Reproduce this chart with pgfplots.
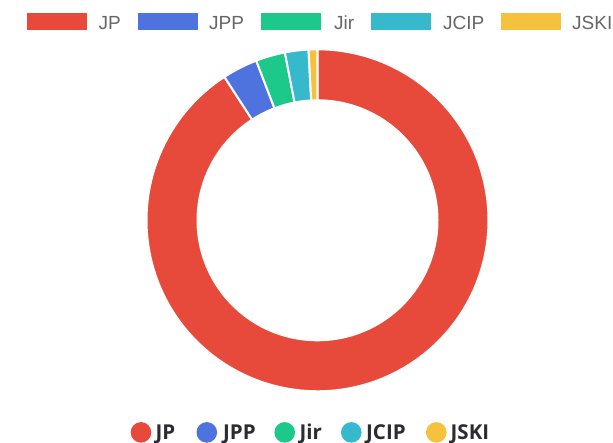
\documentclass[border=0pt]{standalone}
\usepackage{pgfplots}
\usepackage{pgfplotstable}
\pgfplotsset{compat=1.18}
\usepackage{fontspec}
\setmainfont{Liberation Sans}
\newfontfamily\opensans{Open Sans}

\definecolor{cJP}{HTML}{E74A3B}
\definecolor{cJPP}{HTML}{4E73DF}
\definecolor{cJir}{HTML}{1CC88A}
\definecolor{cJCIP}{HTML}{36B9CC}
\definecolor{cJSKI}{HTML}{F6C23E}
\definecolor{toptext}{HTML}{666666}
\definecolor{bottext}{HTML}{2B2B33}

% share of each journal
\pgfplotstableread{
name value colour
JP   327  cJP
JPP  12   cJPP
Jir  10   cJir
JCIP 8    cJCIP
JSKI 3    cJSKI
}\shares

\def\rin{0.7018}% inner radius relative to outer

\begin{document}
\begin{tikzpicture}
\useasboundingbox (0pt,0pt) rectangle (613pt,443pt);
\begin{axis}[
  at={(317.5pt,222.7pt)}, anchor=center,
  width=342pt, height=342pt, scale only axis,
  hide axis, clip=false,
  xmin=-1, xmax=1, ymin=-1, ymax=1,
]
\pgfplotstablegetrowsof{\shares}
\pgfmathtruncatemacro\lastrow{\pgfplotsretval-1}
% total of all shares
\xdef\total{0}
\foreach \i in {0,...,\lastrow}{%
  \pgfplotstablegetelem{\i}{value}\of\shares
  \pgfmathsetmacro\tmp{\total+\pgfplotsretval}%
  \xdef\total{\tmp}%
}
% one ring segment per row, clockwise from the top
\xdef\startang{0}
\foreach \i in {0,...,\lastrow}{%
  \pgfplotstablegetelem{\i}{value}\of\shares
  \pgfmathsetmacro\endang{\startang+(\pgfplotsretval/\total)*360}%
  \pgfmathsetmacro\span{\endang-\startang}%
  \pgfplotstablegetelem{\i}{colour}\of\shares
  \edef\col{\pgfplotsretval}%
  \pgfmathtruncatemacro\nseg{max(2,ceil(\span/2))}%
  \xdef\pts{}%
  \foreach \k in {0,...,\nseg}{%
    \pgfmathsetmacro\ang{90-\startang-\span*(\k/\nseg)}%
    \pgfmathsetmacro\px{cos(\ang)}\pgfmathsetmacro\py{sin(\ang)}%
    \xdef\pts{\pts(\px,\py)}%
  }%
  \foreach \k in {\nseg,...,0}{%
    \pgfmathsetmacro\ang{90-\startang-\span*(\k/\nseg)}%
    \pgfmathsetmacro\px{\rin*cos(\ang)}\pgfmathsetmacro\py{\rin*sin(\ang)}%
    \xdef\pts{\pts(\px,\py)}%
  }%
  \pgfmathsetmacro\px{cos(90-\startang)}\pgfmathsetmacro\py{sin(90-\startang)}%
  \edef\doplot{\noexpand\addplot[fill=\col, draw=white, line width=2pt,
    line join=round, mark=none] coordinates {\pts(\px,\py)};}%
  \doplot
  \xdef\startang{\endang}%
}
\end{axis}

% legend above the ring
\foreach \name/\col/\bx/\tx in {JP/cJP/26.7/98.3, JPP/cJPP/138/209,
    Jir/cJir/261/334, JCIP/cJCIP/371/443, JSKI/cJSKI/501/572}{
  \fill[\col] (\bx pt,413pt) rectangle ++(60pt,16.7pt);
  \node[anchor=base west, inner sep=0pt, text=toptext,
    font=\fontsize{19}{22}\selectfont] at (\tx pt,413.7pt) {\name};
}
% legend below the ring
\foreach \name/\col/\cx/\tx in {JP/cJP/141/155.5, JPP/cJPP/206.8/223,
    Jir/cJir/284.7/299.5, JCIP/cJCIP/351.3/366, JSKI/cJSKI/436.3/450.5}{
  \fill[\col] (\cx pt,10.6pt) circle[radius=10.3pt];
  \node[anchor=base west, inner sep=0pt, text=bottext,
    font=\opensans\bfseries\fontsize{20.5}{24}\selectfont] at (\tx pt,3.6pt) {\name};
}
\end{tikzpicture}
\end{document}
